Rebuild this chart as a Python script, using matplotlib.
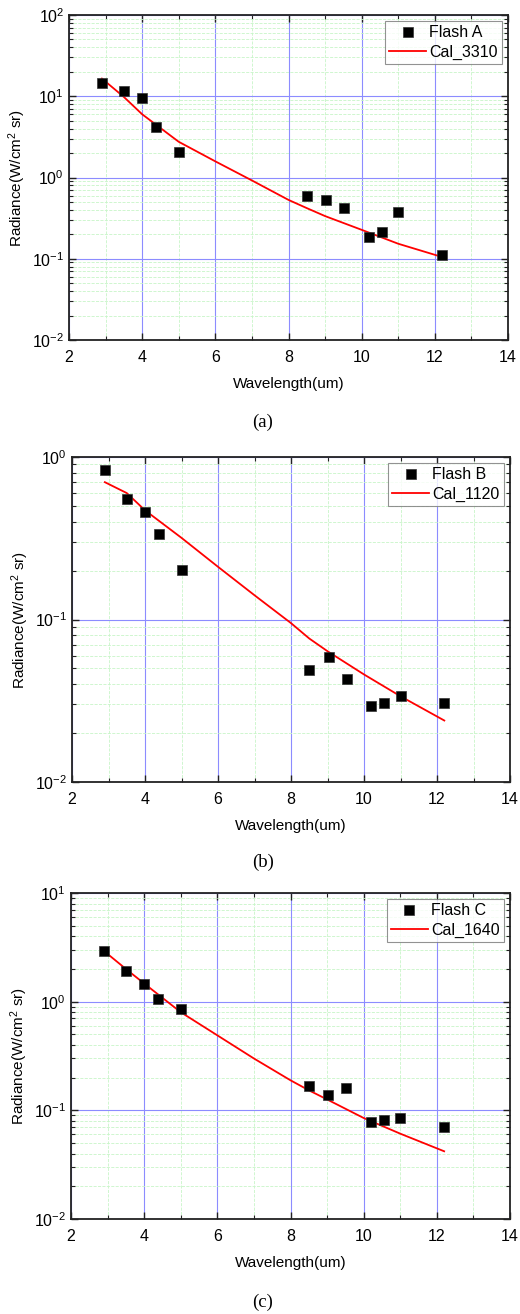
import numpy as np
import matplotlib
matplotlib.use('Agg')
import matplotlib.pyplot as plt
from matplotlib.ticker import FixedLocator, FixedFormatter, LogLocator, NullFormatter, MultipleLocator

plt.rcParams['font.family'] = ['Liberation Sans', 'DejaVu Sans']
plt.rcParams['mathtext.fontset'] = 'custom'
plt.rcParams['mathtext.rm'] = 'Liberation Sans'
plt.rcParams['mathtext.it'] = 'Liberation Sans'

# Measured points
wl = [2.9, 3.5, 4.0, 4.37, 5.0, 8.5, 9.03, 9.53, 10.2, 10.56, 11.0, 12.2]
flash_a = [14.7, 11.5, 9.4, 4.2, 2.07, 0.595, 0.526, 0.424, 0.183, 0.213, 0.371, 0.110]
flash_b = [0.836, 0.552, 0.459, 0.336, 0.202, 0.0488, 0.0586, 0.0431, 0.0293, 0.0308, 0.0337, 0.0308]
flash_c = [2.94, 1.93, 1.45, 1.06, 0.862, 0.167, 0.137, 0.162, 0.0776, 0.081, 0.0845, 0.0703]

# Calibration curves
cal_wl = [2.9, 3.5, 4.0, 5.0, 6.0, 7.0, 8.0, 8.5, 9.0, 10.0, 11.0, 12.2]
cal_a = [16.5, 9.8, 6.0, 2.75, 1.58, 0.92, 0.53, 0.42, 0.335, 0.227, 0.153, 0.105]
cal_b = [0.70, 0.60, 0.47, 0.318, 0.211, 0.141, 0.095, 0.0764, 0.0638, 0.0459, 0.0337, 0.0239]
cal_c = [2.93, 2.0, 1.47, 0.80, 0.49, 0.30, 0.189, 0.153, 0.126, 0.085, 0.061, 0.042]

panels = [
    ('Flash A', 'Cal_3310', flash_a, cal_a, (-2, 2), '(a)'),
    ('Flash B', 'Cal_1120', flash_b, cal_b, (-2, 0), '(b)'),
    ('Flash C', 'Cal_1640', flash_c, cal_c, (-2, 1), '(c)'),
]

# axes boxes in pixels: left, top, right, bottom
boxes = [(69, 15, 508, 340), (72, 457, 510, 782), (71, 893, 510, 1219)]
cap_y = [422, 862, 1302]

W, H = 520, 1314
fig = plt.figure(figsize=(W / 100, H / 100), dpi=100)

for (lab_pts, lab_cal, pts, cal, (e0, e1), cap), (l, t, r, b), cy in zip(panels, boxes, cap_y):
    ax = fig.add_axes([l / W, 1 - b / H, (r - l) / W, (b - t) / H])
    ax.set_yscale('log')
    ax.set_xlim(2, 14)
    ax.set_ylim(10.0 ** e0, 10.0 ** e1)

    ax.plot(wl, pts, 's', color='black', ms=6.5, mec='#333333', mew=0.5,
            label=lab_pts, zorder=4)
    ax.plot(cal_wl, cal, '-', color='red', lw=1.3, label=lab_cal, zorder=3)

    exps = list(range(e0, e1 + 1))
    ax.yaxis.set_major_locator(FixedLocator([10.0 ** e for e in exps]))
    ax.yaxis.set_major_formatter(FixedFormatter([r'$\mathregular{10^{%d}}$' % e for e in exps]))
    ax.yaxis.set_minor_locator(LogLocator(base=10, subs=np.arange(2, 10), numticks=20))
    ax.yaxis.set_minor_formatter(NullFormatter())
    ax.xaxis.set_major_locator(MultipleLocator(2))
    ax.xaxis.set_minor_locator(MultipleLocator(1))

    ax.grid(True, which='major', color='#8c8cff', lw=0.8)
    ax.grid(True, which='minor', color='#c8f5c8', lw=0.6, ls='--')
    ax.set_axisbelow(True)

    ax.tick_params(which='both', direction='in', top=True, right=True,
                   labelsize=11.5, color='#222222')
    ax.tick_params(which='major', length=5, width=1)
    ax.tick_params(which='minor', length=3, width=0.8)
    ax.tick_params(axis='x', which='major', pad=7)
    for s in ax.spines.values():
        s.set_linewidth(1.3)
        s.set_color('#222222')

    ax.set_xlabel('Wavelength(um)', fontsize=11, labelpad=9)
    ax.set_ylabel(r'Radiance(W/cm$^{2}$ sr)', fontsize=11, labelpad=3)

    leg = ax.legend(loc='upper right', fontsize=11.5, frameon=True, fancybox=False,
                    borderaxespad=0.4, handlelength=2.3, borderpad=0.25,
                    labelspacing=0.25, handletextpad=0.2)
    leg.get_frame().set_edgecolor('#777777')
    leg.get_frame().set_linewidth(0.8)

    fig.text(263 / W, 1 - cy / H, cap, ha='center', va='center', fontsize=13.5,
             family=['Liberation Serif', 'DejaVu Serif'])

fig.savefig('out.png', dpi=100)
